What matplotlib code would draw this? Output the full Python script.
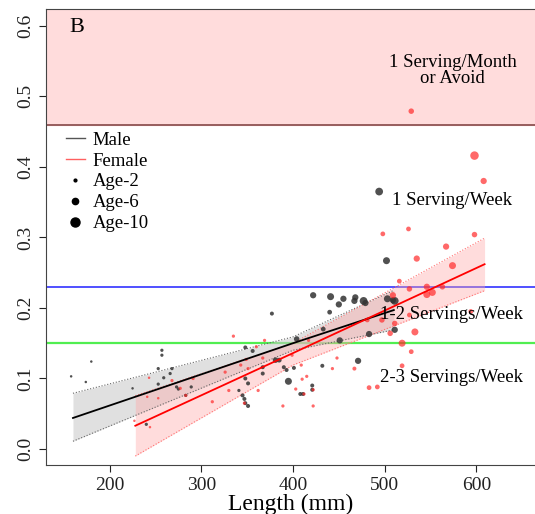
import numpy as np
import matplotlib
matplotlib.use("Agg")
import matplotlib.pyplot as plt
from matplotlib.lines import Line2D

plt.rcParams['font.family'] = ['Liberation Serif', 'DejaVu Serif']

# Male fish: length (mm), mercury (ppm), age (yr)
male_len = [158, 174, 180, 225, 240, 253, 257, 257, 253, 259, 266, 268, 273, 275, 283, 289,
            341, 345, 347, 348, 348, 348, 351, 351, 356, 367, 367, 377, 381, 385, 390, 393,
            395, 401, 404, 408, 411, 421, 421, 422, 432, 433, 440, 441, 450, 451, 455, 468,
            467, 471, 477, 479, 483, 494, 502, 503, 509, 511, 511]
male_hg = [0.103, 0.095, 0.124, 0.086, 0.035, 0.114, 0.140, 0.133, 0.092, 0.101, 0.107, 0.114, 0.088, 0.085, 0.076, 0.088,
           0.083, 0.076, 0.071, 0.065, 0.100, 0.144, 0.093, 0.061, 0.139, 0.107, 0.116, 0.192, 0.126, 0.126, 0.116, 0.112,
           0.096, 0.115, 0.156, 0.078, 0.078, 0.090, 0.084, 0.218, 0.118, 0.170, 0.194, 0.216, 0.205, 0.154, 0.213, 0.215,
           0.210, 0.125, 0.210, 0.207, 0.163, 0.365, 0.267, 0.213, 0.211, 0.169, 0.210]
male_age = [2, 2, 2, 2, 3, 3, 3, 3, 3, 3, 3, 3, 3, 3, 3, 3,
            3, 4, 4, 4, 4, 4, 4, 4, 4, 4, 4, 4, 6, 5, 4, 4,
            8, 4, 6, 4, 4, 4, 4, 7, 4, 5, 5, 8, 7, 7, 7, 7,
            7, 7, 9, 7, 7, 9, 8, 8, 7, 7, 9]

# Female fish
fem_len = [227, 241, 243, 244, 253, 268, 277, 283, 291, 312, 326, 330, 335, 343, 347, 349,
           351, 360, 362, 367, 369, 389, 399, 403, 409, 410, 412, 415, 417, 422, 422, 448,
           443, 467, 481, 483, 492, 497, 498, 506, 509, 511, 516, 519, 519, 526, 527, 527,
           529, 529, 533, 535, 546, 546, 552, 563, 567, 574, 594, 598, 608, 598]
fem_hg = [0.040, 0.074, 0.101, 0.031, 0.072, 0.097, 0.086, 0.076, 0.100, 0.067, 0.109, 0.083, 0.160, 0.119, 0.065, 0.127,
          0.114, 0.145, 0.083, 0.129, 0.154, 0.061, 0.133, 0.085, 0.119, 0.099, 0.078, 0.103, 0.154, 0.061, 0.084, 0.129,
          0.114, 0.114, 0.183, 0.087, 0.088, 0.183, 0.305, 0.164, 0.218, 0.178, 0.238, 0.150, 0.118, 0.312, 0.227, 0.190,
          0.138, 0.479, 0.166, 0.270, 0.230, 0.219, 0.222, 0.230, 0.287, 0.260, 0.195, 0.416, 0.380, 0.304]
fem_age = [2, 2, 2, 2, 2, 3, 3, 3, 3, 3, 3, 3, 3, 3, 3, 3,
           3, 3, 3, 3, 3, 3, 3, 3, 3, 3, 3, 3, 3, 3, 3, 3,
           3, 4, 5, 5, 5, 6, 5, 6, 7, 6, 5, 8, 5, 5, 6, 5,
           5, 6, 8, 7, 7, 8, 8, 6, 7, 8, 5, 10, 7, 6]

# fitted lines with 95% bands
male_fit_x = [160, 400, 510]
male_fit = [0.044, 0.150, 0.197]
male_lo = [0.011, 0.140, 0.169]
male_hi = [0.079, 0.159, 0.225]
fem_fit_x = [228, 400, 609]
fem_fit = [0.033, 0.136, 0.262]
fem_lo = [-0.010, 0.119, 0.2245]
fem_hi = [0.0756, 0.150, 0.299]

advisory = [0.46, 0.23, 0.15]


def msize(age):
    d = 1.0 + 0.75 * np.asarray(age)
    return (0.72 * d) ** 2


fig = plt.figure(figsize=(5.35, 5.14), dpi=100)
ax = fig.add_axes([0.0867, 0.0953, 0.9133, 0.8867])

ax.axhspan(advisory[0], 0.7, color='#ffdcdc', zorder=0)
ax.axhline(advisory[0], color='#7a3b3b', lw=1.1, zorder=1)
ax.axhline(advisory[1], color='#2020ff', lw=1.1, zorder=1)
ax.axhline(advisory[2], color='#50ee50', lw=1.6, zorder=1)

ax.fill_between(male_fit_x, male_lo, male_hi, color='#c8c8c8', alpha=0.55, lw=0, zorder=2)
ax.plot(male_fit_x, male_lo, color='#666666', ls=':', lw=0.8, zorder=3)
ax.plot(male_fit_x, male_hi, color='#666666', ls=':', lw=0.8, zorder=3)
ax.fill_between(fem_fit_x, fem_lo, fem_hi, color='#ffa8a8', alpha=0.4, lw=0, zorder=2)
ax.plot(fem_fit_x, fem_lo, color='#ff7070', ls=':', lw=0.8, zorder=3)
ax.plot(fem_fit_x, fem_hi, color='#ff7070', ls=':', lw=0.8, zorder=3)

ax.scatter(male_len, male_hg, s=msize(male_age), color='#333333', alpha=0.85, lw=0, zorder=4)
ax.scatter(fem_len, fem_hg, s=msize(fem_age), color='#ff2a2a', alpha=0.7, lw=0, zorder=4)

ax.plot(male_fit_x, male_fit, color='black', lw=1.3, zorder=5)
ax.plot(fem_fit_x, fem_fit, color='#ff0000', lw=1.3, zorder=5)

ax.text(156, 0.597, 'B', fontsize=16, ha='left', va='center')
ax.text(574, 0.537, '1 Serving/Month\nor Avoid', fontsize=13.5, ha='center', va='center',
        linespacing=0.9)
ax.text(574, 0.352, '1 Serving/Week', fontsize=13.5, ha='center', va='center')
ax.text(573, 0.191, '1-2 Servings/Week', fontsize=13.5, ha='center', va='center', zorder=6)
ax.text(573, 0.102, '2-3 Servings/Week', fontsize=13.5, ha='center', va='center')

handles = [
    Line2D([], [], color='#555555', lw=1),
    Line2D([], [], color='#ff6060', lw=1),
    Line2D([], [], ls='none', marker='o', color='black', markersize=2),
    Line2D([], [], ls='none', marker='o', color='black', markersize=4.5),
    Line2D([], [], ls='none', marker='o', color='black', markersize=6.5),
]
ax.legend(handles, ['Male', 'Female', 'Age-2', 'Age-6', 'Age-10'], loc='upper left',
          bbox_to_anchor=(0.025, 0.748), frameon=False, fontsize=13.5,
          handlelength=1.0, handletextpad=0.4, labelspacing=0.2, borderaxespad=0)

ax.set_xlim(131, 664)
ax.set_ylim(-0.0227, 0.6235)
ax.set_xticks([200, 300, 400, 500, 600])
ax.set_yticks([0.0, 0.1, 0.2, 0.3, 0.4, 0.5, 0.6])
ax.set_yticklabels(['0.0', '0.1', '0.2', '0.3', '0.4', '0.5', '0.6'], rotation=90, va='center')
ax.tick_params(direction='out', length=5, labelsize=14, colors='#222222')
ax.spines['right'].set_visible(False)
for sp in ['left', 'bottom', 'top']:
    ax.spines[sp].set_color('#444444')
ax.set_xlabel('Length (mm)', fontsize=17, labelpad=0)

fig.savefig('out.png', dpi=100)
